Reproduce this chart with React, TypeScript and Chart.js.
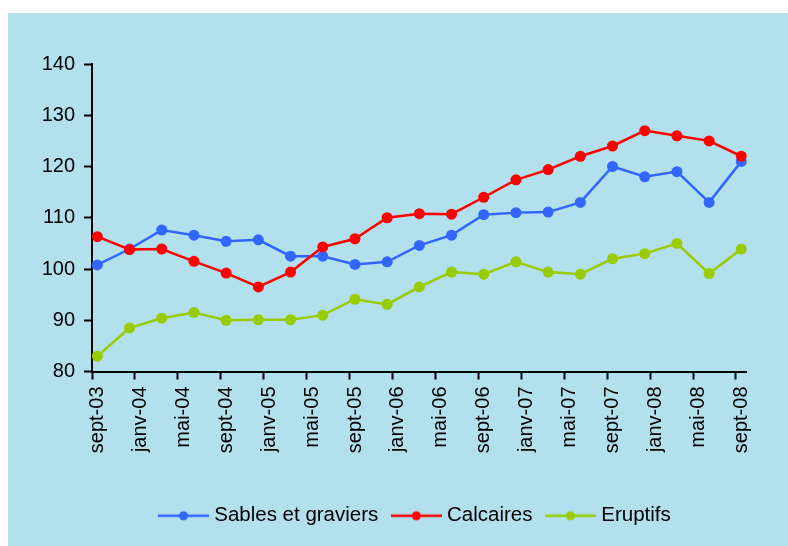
import { useEffect, useRef } from 'react';
import { Chart, registerables } from 'chart.js';

Chart.register(...registerables);

// Tick labels on the x axis (every 4 months, from sept-03)
const tickLabels = [
  'sept-03', 'janv-04', 'mai-04', 'sept-04', 'janv-05', 'mai-05', 'sept-05', 'janv-06',
  'mai-06', 'sept-06', 'janv-07', 'mai-07', 'sept-07', 'janv-08', 'mai-08', 'sept-08',
];

// Month offset (since sept-03) of each quarterly observation
const monthOffsets = [0, 3, 6, 9, 12, 15, 18, 21, 24, 27, 30, 33, 36, 39, 42, 45, 48, 51, 54, 57, 60];

const sables = [100.8, 103.9, 107.6, 106.6, 105.4, 105.7, 102.5, 102.5, 100.9, 101.4, 104.6, 106.6, 110.6, 111.0, 111.1, 113.0, 120.0, 118.0, 119.0, 113.0, 121.0];
const calcaires = [106.3, 103.8, 103.9, 101.5, 99.2, 96.5, 99.4, 104.3, 105.9, 110.0, 110.8, 110.7, 114.0, 117.4, 119.4, 122.0, 124.0, 127.0, 126.0, 125.0, 122.0];
const eruptifs = [83.0, 88.5, 90.4, 91.5, 90.0, 90.1, 90.1, 91.0, 94.1, 93.1, 96.5, 99.4, 99.0, 101.4, 99.4, 99.0, 102.0, 103.0, 105.0, 99.1, 103.9];

const seriesNames = ['Sables et graviers', 'Calcaires', 'Eruptifs'];
const BLUE = '#3366ff';
const RED = '#ff0000';
const GREEN = '#99cc00';
const BG = '#b2e0ec';

export default function App() {
  const ref = useRef<HTMLCanvasElement>(null);

  useEffect(() => {
    const makeIcon = (color: string) => {
      const c = document.createElement('canvas');
      c.width = 51;
      c.height = 12;
      const g = c.getContext('2d')!;
      g.strokeStyle = color;
      g.lineWidth = 2.5;
      g.beginPath();
      g.moveTo(0, 6);
      g.lineTo(51, 6);
      g.stroke();
      g.fillStyle = color;
      g.beginPath();
      g.arc(25.5, 6, 4.5, 0, Math.PI * 2);
      g.fill();
      return c;
    };
    const icons = [makeIcon(BLUE), makeIcon(RED), makeIcon(GREEN)];
    const family = '"Liberation Sans", Arial, sans-serif';
    const font = { family, size: 20 };
    const mk = (vals: number[]) => monthOffsets.map((m, i) => ({ x: m, y: vals[i] }));

    const legendShift = {
      id: 'legendShift',
      afterLayout(c: any) {
        if (c.legend) c.legend.left = 79;
      },
    };

    const chart = new Chart(ref.current!, {
      type: 'line',
      data: {
        datasets: [
          { label: seriesNames[0], data: mk(sables), borderColor: BLUE, backgroundColor: BLUE, order: 2 },
          { label: seriesNames[1], data: mk(calcaires), borderColor: RED, backgroundColor: RED, order: 1 },
          { label: seriesNames[2], data: mk(eruptifs), borderColor: GREEN, backgroundColor: GREEN, order: 0 },
        ],
      },
      options: {
        animation: false,
        responsive: false,
        layout: { padding: { left: 0, right: 41.3, top: 51, bottom: 10 } },
        elements: {
          line: { borderWidth: 2.5, tension: 0 },
          point: { radius: 5.5, borderWidth: 0, hoverRadius: 5.5 },
        },
        scales: {
          x: {
            type: 'linear',
            min: -0.5,
            max: 60.5,
            afterBuildTicks: (s: any) => {
              s.ticks = tickLabels.map((_, i) => ({ value: i * 4 - 0.5 }));
            },
            afterFit: (s: any) => {
              s.height = 116.5;
            },
            ticks: {
              autoSkip: false,
              maxRotation: 90,
              minRotation: 90,
              padding: 7,
              labelOffset: 5.4,
              color: '#000',
              font,
              callback: (_v: any, i: number) => tickLabels[i],
            },
            grid: { drawOnChartArea: false, tickLength: 8, tickWidth: 2, tickColor: '#000', color: '#000' },
            border: { color: '#000', width: 2 },
          },
          y: {
            min: 80,
            max: 140,
            afterFit: (s: any) => {
              s.width = 84;
            },
            ticks: { stepSize: 10, padding: 9, color: '#000', font },
            grid: { drawOnChartArea: false, tickLength: 8, tickWidth: 2, tickColor: '#000', color: '#000' },
            border: { color: '#000', width: 2 },
          },
        },
        plugins: {
          legend: {
            position: 'bottom',
            labels: {
              usePointStyle: true,
              pointStyleWidth: 41,
              padding: 17.5,
              color: '#000',
              font: { family, size: 20.5 },
              sort: (a: any, b: any) => a.datasetIndex - b.datasetIndex,
              generateLabels: (c: any) =>
                (Chart.defaults.plugins.legend.labels.generateLabels as any)(c).map((it: any) => ({
                  ...it,
                  pointStyle: icons[it.datasetIndex],
                })),
            },
          },
          tooltip: { enabled: false },
        },
      } as any,
      plugins: [legendShift],
    });
    return () => chart.destroy();
  }, []);

  return (
    <div style={{ position: 'fixed', left: 8, top: 13, right: 0, bottom: 0, background: BG }}>
      <canvas ref={ref} width={780} height={533} style={{ display: 'block' }} />
    </div>
  );
}
